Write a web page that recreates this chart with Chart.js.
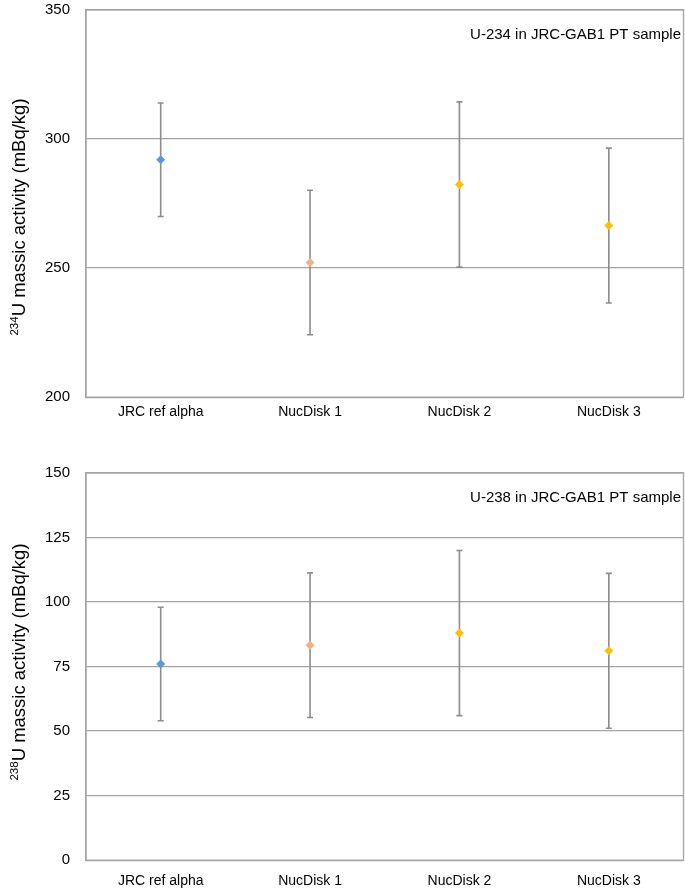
<!DOCTYPE html>
<html>
<head>
<meta charset="utf-8">
<script src="https://cdn.jsdelivr.net/npm/chart.js@4"></script>
<style>
  html, body { margin: 0; padding: 0; background: #fff; }
  body { width: 685px; height: 892px; position: relative; overflow: hidden; }
  .box { position: absolute; left: 0; width: 688px; }
  #topBox { top: -15px; height: 453px; }
  #bottomBox { top: 440px; height: 473px; }
</style>
</head>
<body>
<div class="box" id="topBox"><canvas id="u234Chart"></canvas></div>
<div class="box" id="bottomBox"><canvas id="u238Chart"></canvas></div>
<script>
// categories and values
const categories = ["JRC ref alpha", "NucDisk 1", "NucDisk 2", "NucDisk 3"];
const u234Values = [292, 252.2, 282.4, 266.5];
const u234Errors = [22, 28, 32, 30];
const u238Values = [76, 83.3, 88, 81.1];
const u238Errors = [22, 28, 32, 30];
const u234Ticks = [200, 250, 300, 350];
const u238Ticks = [0, 25, 50, 75, 100, 125, 150];

const markerColors = ["#5B9BD5", "#F4B183", "#FFC000", "#FFC000"];
const gridColor = "#a3a3a3";
const barColor = "#8c8c8c";
const FONT = "Liberation Sans, Arial, sans-serif";

// error bars + frame + axis title with superscript + inner label
const decorPlugin = {
    id: "decor",
    beforeDatasetsDraw(chart, args, opts) {
        const ctx = chart.ctx;
        const y = chart.scales.y;
        const meta = chart.getDatasetMeta(0);
        ctx.save();
        ctx.strokeStyle = barColor;
        ctx.lineWidth = 1.6;
        meta.data.forEach((pt, i) => {
            const v = opts.values[i], e = opts.errors[i];
            const yTop = y.getPixelForValue(v + e);
            const yBot = y.getPixelForValue(v - e);
            ctx.beginPath();
            ctx.moveTo(pt.x, yTop);
            ctx.lineTo(pt.x, yBot);
            ctx.moveTo(pt.x - 3, yTop);
            ctx.lineTo(pt.x + 3, yTop);
            ctx.moveTo(pt.x - 3, yBot);
            ctx.lineTo(pt.x + 3, yBot);
            ctx.stroke();
        });
        ctx.restore();
    },
    afterDraw(chart, args, opts) {
        const ctx = chart.ctx;
        const a = chart.chartArea;
        ctx.save();
        ctx.strokeStyle = gridColor;
        ctx.lineWidth = 1.3;
        ctx.strokeRect(a.left, a.top, a.right - a.left, a.bottom - a.top);

        // inner label
        ctx.fillStyle = "#000";
        ctx.font = "15px " + FONT;
        ctx.textAlign = "right";
        ctx.textBaseline = "middle";
        ctx.fillText(opts.note, 681, opts.noteY);

        // rotated y title
        ctx.translate(24.5, opts.titleY);
        ctx.rotate(-Math.PI / 2);
        ctx.textAlign = "left";
        ctx.textBaseline = "alphabetic";
        ctx.font = "11.5px " + FONT;
        const supW = ctx.measureText(opts.sup).width;
        ctx.font = "18.5px " + FONT;
        const mainW = ctx.measureText(opts.title).width;
        const start = -(supW + mainW) / 2;
        ctx.font = "11.5px " + FONT;
        ctx.fillText(opts.sup, start, -6.5);
        ctx.font = "18.5px " + FONT;
        ctx.fillText(opts.title, start + supW, 0);
        ctx.restore();
    }
};

function makeChart(id, values, errors, ticks, pad, xPad, deco) {
    return new Chart(document.getElementById(id), {
        type: "line",
        data: {
            labels: categories,
            datasets: [{
                data: values,
                showLine: false,
                pointStyle: "rectRot",
                pointRadius: 4.5,
                pointHoverRadius: 4.5,
                pointBackgroundColor: markerColors,
                pointBorderColor: markerColors,
                pointBorderWidth: 0
            }]
        },
        options: {
            responsive: true,
            maintainAspectRatio: false,
            animation: false,
            events: [],
            layout: { padding: pad },
            plugins: {
                legend: { display: false },
                tooltip: { enabled: false },
                decor: Object.assign({ values: values, errors: errors }, deco)
            },
            scales: {
                x: {
                    type: "category",
                    offset: true,
                    grid: { display: false, drawTicks: false },
                    border: { display: false },
                    ticks: {
                        color: "#000",
                        font: { family: FONT, size: 14 },
                        padding: xPad,
                        maxRotation: 0
                    }
                },
                y: {
                    min: ticks[0],
                    max: ticks[ticks.length - 1],
                    afterBuildTicks: s => { s.ticks = ticks.map(v => ({ value: v })); },
                    afterFit: s => { s.width = 86; },
                    grid: { color: gridColor, lineWidth: 1.3, drawTicks: false },
                    border: { color: gridColor, width: 1.3 },
                    ticks: {
                        color: "#000",
                        font: { family: FONT, size: 15 },
                        padding: 16
                    }
                }
            }
        },
        plugins: [decorPlugin]
    });
}

makeChart("u234Chart", u234Values, u234Errors, u234Ticks,
    { top: 9, right: 1, left: 0, bottom: 10 }, 7,
    { note: "U-234 in JRC-GAB1 PT sample", noteY: 50, sup: "234",
      title: "U massic activity (mBq/kg)", titleY: 232 });

makeChart("u238Chart", u238Values, u238Errors, u238Ticks,
    { top: 33, right: 1, left: 0, bottom: 10 }, 13,
    { note: "U-238 in JRC-GAB1 PT sample", noteY: 58, sup: "238",
      title: "U massic activity (mBq/kg)", titleY: 222 });
</script>
</body>
</html>
